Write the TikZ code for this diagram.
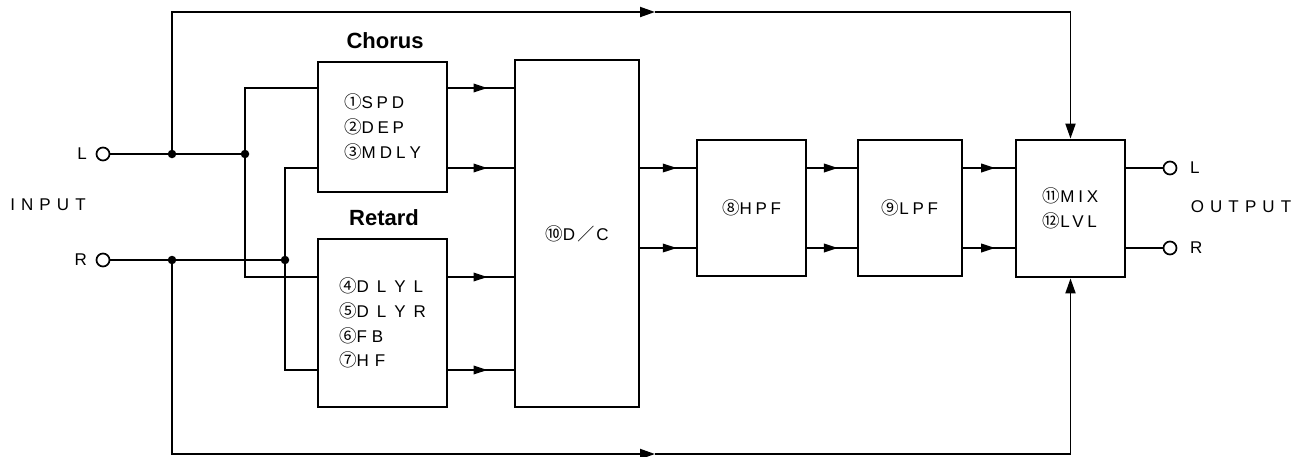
\documentclass[tikz,border=0pt]{standalone}
\usepackage{fontspec}
\setmainfont{Liberation Sans}
\newfontfamily\spcfont[LetterSpace=22]{Liberation Sans}
\newfontfamily\widefont[LetterSpace=36]{Liberation Sans}
\newfontfamily\cjkfont{Noto Sans CJK JP}
\newcommand\cnum[1]{{\cjkfont\fontsize{17.5}{17.5}\selectfont #1}}
\usetikzlibrary{arrows.meta,decorations.markings}
\tikzset{
  blk/.style={draw, line width=2.8pt, rectangle, inner sep=0pt, align=left,
    font=\spcfont\fontsize{17}{25}\selectfont},
  conn/.style={line width=1.9pt},
  term/.style={draw, circle, line width=1.7pt, minimum size=13pt, inner sep=0pt, fill=white},
  dot/.style={circle, fill, inner sep=0pt, minimum size=8.5pt},
  lbl/.style={font=\widefont\fontsize{17}{20}\selectfont, inner sep=0pt},
  plain/.style={font=\fontsize{17}{20}\selectfont, inner sep=0pt},
  ttl/.style={font=\bfseries\fontsize{22}{24}\selectfont, inner sep=0pt},
  tip/.style={-{Triangle[length=15pt,width=10pt]}},
  midarrow/.style={postaction={decorate}, decoration={markings,
    mark=at position #1 with {\arrow{Triangle[length=14pt,width=8.5pt]}}}},
}
\begin{document}
\begin{tikzpicture}[x=1pt,y=-1pt]
\useasboundingbox (0,0) rectangle (1303,456);

% blocks
\node[blk, minimum width=129pt, minimum height=130pt] (chorus) at (382.5,127)
  {\cnum{①}SPD\\\cnum{②}DEP\\\cnum{③}M\kern4pt D\kern4pt L\kern4pt Y};
\node[blk, minimum width=129pt, minimum height=168pt, font=\spcfont\fontsize{17}{24.7}\selectfont] (retard) at (382.5,323)
  {\cnum{④}D\kern8pt L\kern8pt Y\kern8pt L\\\cnum{⑤}D\kern8pt L\kern8pt Y\kern8pt R\\\cnum{⑥}F\kern5pt B\\\cnum{⑦}H\kern6pt F};
\node[blk, minimum width=124pt, minimum height=347pt] (dc) at (577,233.5)
  {\cnum{⑩}D\kern2pt{\cjkfont\fontsize{17}{17}\selectfont ／}\kern2pt C};
\node[blk, minimum width=109pt, minimum height=136pt] (hpf) at (751.5,208)
  {\cnum{⑧}HPF};
\node[blk, minimum width=104pt, minimum height=136pt] (lpf) at (910,208)
  {\cnum{⑨}LPF};
\node[blk, minimum width=109pt, minimum height=137pt] (mix) at (1070.5,208.5)
  {\cnum{⑪}MIX\\\cnum{⑫}LVL};

% titles and labels
\node[ttl] (chorusLbl) at (385,41) {Chorus};
\node[ttl] (retardLbl) at (384,218) {Retard};
\node[lbl] (inputLbl) at (48,205) {INPUT};
\node[lbl] (outputLbl) at (1241,207) {OUTPUT};

% terminals
\node[term] (inL) at (103,154) {};
\node[term] (inR) at (103,260) {};
\node[term] (outL) at (1170,168) {};
\node[term] (outR) at (1170,248) {};
\node[plain, anchor=east] (inLlbl) at (87,154) {L};
\node[plain, anchor=east] (inRlbl) at (87,260) {R};
\node[plain, anchor=west] (outLlbl) at (1190,168) {L};
\node[plain, anchor=west] (outRlbl) at (1190,248) {R};

% coordinates
\coordinate (jL1) at (172,154);
\coordinate (jL2) at (245,154);
\coordinate (jR1) at (172,260);
\coordinate (jR2) at (285,260);
\coordinate (topmid) at (655,12);
\coordinate (botmid) at (655,454);
\coordinate (ya) at (0,88);
\coordinate (yb) at (0,168);
\coordinate (yc) at (0,277);
\coordinate (yd) at (0,370);
\coordinate (ye) at (0,248);

% input wiring
\draw[conn] (inL) -- (jL2);
\draw[conn] (inR) -- (jR2);
\draw[conn] (chorus.west |- ya) -| (jL2) |- (retard.west |- yc);
\draw[conn] (chorus.west |- yb) -| (jR2) |- (retard.west |- yd);
\draw[conn,tip] (jL1) |- (topmid);
\draw[conn,tip] (topmid) -| (mix.north);
\draw[conn,tip] (jR1) |- (botmid);
\draw[conn,tip] (botmid) -| (mix.south);

% signal chain
\draw[conn, midarrow=0.6] (chorus.east |- ya) -- (dc.west |- ya);
\draw[conn, midarrow=0.6] (chorus.east |- yb) -- (dc.west |- yb);
\draw[conn, midarrow=0.6] (retard.east |- yc) -- (dc.west |- yc);
\draw[conn, midarrow=0.6] (retard.east |- yd) -- (dc.west |- yd);
\draw[conn, midarrow=0.66] (dc.east |- yb) -- (hpf.west |- yb);
\draw[conn, midarrow=0.66] (dc.east |- ye) -- (hpf.west |- ye);
\draw[conn, midarrow=0.62] (hpf.east |- yb) -- (lpf.west |- yb);
\draw[conn, midarrow=0.62] (hpf.east |- ye) -- (lpf.west |- ye);
\draw[conn, midarrow=0.62] (lpf.east |- yb) -- (mix.west |- yb);
\draw[conn, midarrow=0.62] (lpf.east |- ye) -- (mix.west |- ye);
\draw[conn] (mix.east |- yb) -- (outL);
\draw[conn] (mix.east |- ye) -- (outR);

% junction dots
\node[dot] (dL1) at (jL1) {};
\node[dot] (dL2) at (jL2) {};
\node[dot] (dR1) at (jR1) {};
\node[dot] (dR2) at (jR2) {};
\end{tikzpicture}
\end{document}
